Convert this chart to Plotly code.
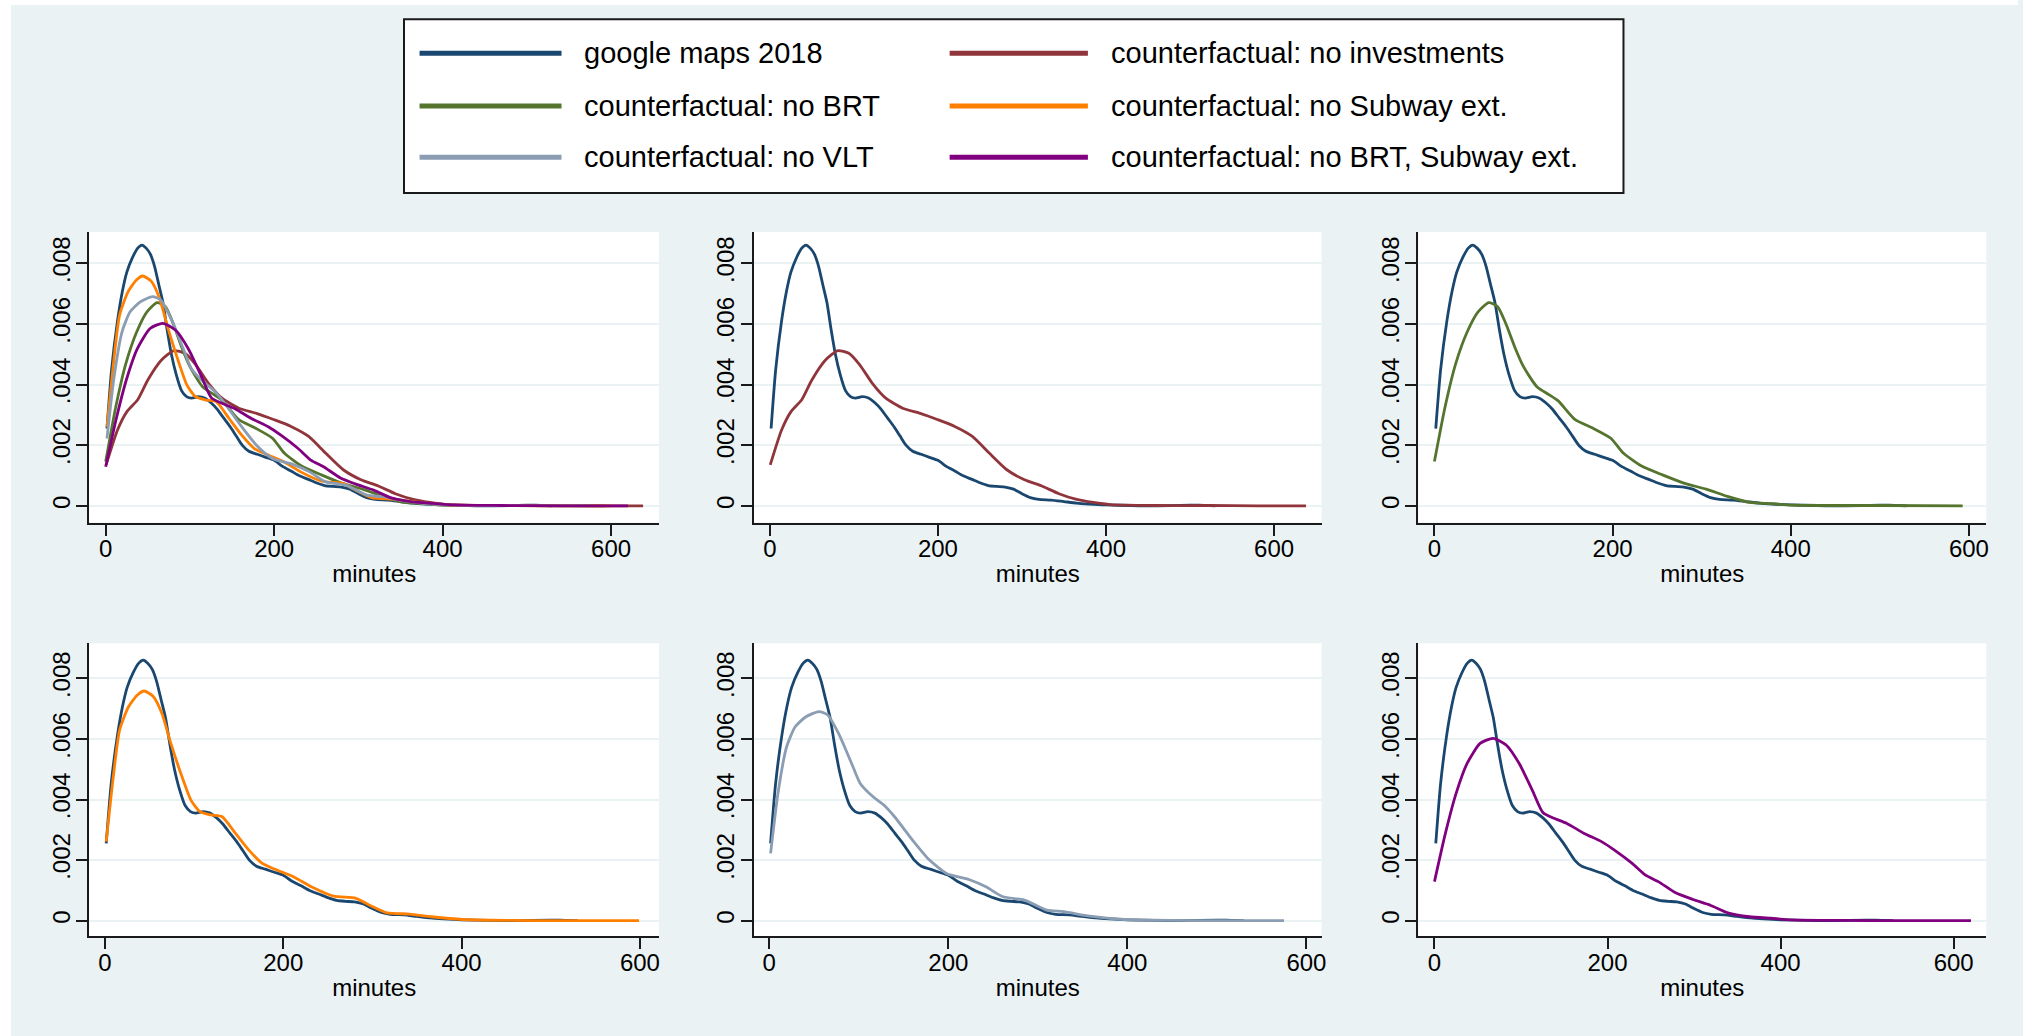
import plotly.graph_objects as go

W, H = 2023, 1036

# ---------------- data ----------------
google_x = [1.5, 7, 14, 20, 25, 32, 38, 43, 48, 53, 58, 63, 68, 73, 78, 84, 90, 96, 102, 110, 118, 125, 132,
            140, 148, 155, 162, 170, 180, 190, 200, 210, 220, 230, 240, 250, 260, 270, 280, 290, 300, 310,
            320, 335, 350, 365, 380, 400, 430, 460, 500, 510, 530]
google_y = [0.00255, 0.0045, 0.0061, 0.0071, 0.0077, 0.0082, 0.0085, 0.0086, 0.0085, 0.0083, 0.0079, 0.0073,
            0.0067, 0.0058, 0.0050, 0.0043, 0.0038, 0.0036, 0.00355, 0.0036, 0.00355, 0.0034, 0.0032,
            0.0029, 0.0026, 0.0023, 0.0020, 0.0018, 0.0017, 0.0016, 0.0015, 0.0013, 0.00115, 0.00099,
            0.00088, 0.00076, 0.00067, 0.00064, 0.00062, 0.00055, 0.0004, 0.00027, 0.00021, 0.00019,
            0.00014, 0.00009, 0.00006, 0.00003, 0.00001, 0.0, 0.00002, 0.00002, 0.0]

noinv_x = [0.5, 14, 25, 38, 50, 66, 81, 94, 107, 122, 138, 158, 179, 200, 220, 241, 261, 282, 303, 323,
           344, 364, 385, 405, 457, 520, 580, 638]
noinv_y = [0.00135, 0.0025, 0.0031, 0.0035, 0.00415, 0.0048, 0.00512, 0.00503, 0.00465, 0.00404, 0.00355,
           0.00322, 0.00305, 0.00284, 0.00262, 0.00229, 0.00174, 0.00119, 0.00086, 0.00066, 0.0004,
           0.00022, 0.00011, 0.00004, 0.00001, 0.00001, 0.0, 0.0]

nobrt_x = [0, 12, 24, 37, 49, 61, 71, 80, 90, 100, 115, 129, 139, 158, 178, 198, 212, 232, 256, 280, 305,
           329, 354, 378, 402, 450, 500, 593]
nobrt_y = [0.00146, 0.00327, 0.0047, 0.00575, 0.0064, 0.0067, 0.00657, 0.00602, 0.00525, 0.00459, 0.00393,
           0.00366, 0.00346, 0.00284, 0.00256, 0.00223, 0.00174, 0.00132, 0.00102, 0.00075, 0.00055,
           0.00031, 0.00011, 0.00007, 0.00002, 0.00001, 0.00001, 0.0]

nosub_x = [1.5, 9, 16.5, 26.5, 36.5, 44, 54, 64, 74, 86.5, 96.5, 106.5, 119, 131.5, 146.5, 161.5, 176.5,
           191.5, 211.5, 231.5, 256.5, 281.5, 296.5, 316.5, 341.5, 366.5, 401.5, 450, 520, 599]
nosub_y = [0.00261, 0.00464, 0.00629, 0.00706, 0.00745, 0.00758, 0.00741, 0.00684, 0.00585, 0.00475,
           0.00398, 0.0036, 0.00349, 0.00343, 0.00288, 0.00233, 0.00189, 0.00169, 0.00145, 0.00112,
           0.00081, 0.00074, 0.00052, 0.00026, 0.00022, 0.00013, 0.00004, 0.00001, 0.0, 0.0]

novlt_x = [1.5, 9.7, 19.4, 29, 41, 55.6, 65.3, 77.4, 92, 101.6, 116, 128, 140, 160, 179, 198, 223, 242,
           261, 285, 310, 329, 358, 397, 450, 520, 575]
novlt_y = [0.00222, 0.0042, 0.00574, 0.0064, 0.00673, 0.0069, 0.00679, 0.00618, 0.00519, 0.00453, 0.00409,
           0.00382, 0.00343, 0.00266, 0.0020, 0.00156, 0.00136, 0.00112, 0.00079, 0.00068, 0.00035,
           0.0003, 0.00015, 0.00004, 0.00001, 0.0, 0.0]

nobrtsub_x = [0, 12.6, 25, 37.7, 52.7, 67.8, 82.8, 97.9, 113, 125.5, 138, 153, 173, 193, 208, 228.5, 243.5,
              258.6, 278.7, 298.7, 318.8, 339, 364, 389, 414, 470, 540, 620]
nobrtsub_y = [0.00129, 0.00288, 0.0042, 0.00519, 0.00585, 0.00602, 0.0058, 0.00519, 0.00431, 0.00356,
              0.00338, 0.00321, 0.00288, 0.00261, 0.00233, 0.00189, 0.00151, 0.00129, 0.00092, 0.0007,
              0.00051, 0.00026, 0.00013, 0.00008, 0.00003, 0.00001, 0.0, 0.0]

series_names = ["google maps 2018", "counterfactual: no investments", "counterfactual: no BRT",
                "counterfactual: no Subway ext.", "counterfactual: no VLT",
                "counterfactual: no BRT, Subway ext."]
series_colors = ["#1a476f", "#90353b", "#55752f", "#ff7f00", "#8b9db3", "#800080"]
series_x = [google_x, noinv_x, nobrt_x, nosub_x, novlt_x, nobrtsub_x]
series_y = [google_y, noinv_y, nobrt_y, nosub_y, novlt_y, nobrtsub_y]

y_ticks = [0, 0.002, 0.004, 0.006, 0.008]
y_tick_labels = ["0", ".002", ".004", ".006", ".008"]
x_ticks = [0, 200, 400, 600]
x_tick_labels = ["0", "200", "400", "600"]

# panel contents: list of series indices
panels = [[0, 1, 2, 3, 4, 5], [0, 1], [0, 2], [0, 3], [0, 4], [0, 5]]

# ---------------- layout (pixel geometry) ----------------
col_px = [(89.5, 660.7), (755.9, 1324.9), (1421.9, 1991.2)]
row_px = [(232.0, 522.5), (643.3, 936.0)]
x_ranges = [[-19.5, 657], [-18.8, 656.6], [-18, 619.5], [-17.5, 621.5], [-17, 617], [-18.6, 637.7]]
y_ranges = [[-0.00055, 0.009032], [-0.000505, 0.009155]]

BG = "#eaf2f3"
FONT = "Liberation Sans, Arial, sans-serif"

fig = go.Figure()

for p, idxs in enumerate(panels):
    axn = "" if p == 0 else str(p + 1)
    for i in idxs:
        fig.add_trace(go.Scatter(
            x=series_x[i], y=series_y[i], mode="lines",
            line=dict(color=series_colors[i], width=2.8, shape="spline", smoothing=0.6),
            name=series_names[i], showlegend=False, hoverinfo="skip",
            xaxis="x" + axn, yaxis="y" + axn))

layout = dict(
    width=W, height=H, margin=dict(l=0, r=0, t=0, b=0),
    paper_bgcolor=BG, plot_bgcolor="white",
    font=dict(family=FONT, size=24, color="black"),
    showlegend=False,
)

for p in range(6):
    r, c = divmod(p, 3)
    axn = "" if p == 0 else str(p + 1)
    x0, x1 = col_px[c]
    ytop, ybot = row_px[r]
    layout["xaxis" + axn] = dict(
        domain=[x0 / W, x1 / W], range=x_ranges[p], anchor="y" + axn,
        tickvals=x_ticks, ticktext=x_tick_labels, ticks="outside", ticklen=11, tickwidth=2,
        tickcolor="#1a1a1a", showline=True, linecolor="#1a1a1a", linewidth=2,
        showgrid=False, zeroline=False, ticklabelstandoff=-7,
        tickfont=dict(family=FONT, size=24, color="black"),
        title=dict(text="minutes", font=dict(family=FONT, size=24, color="black"), standoff=4),
    )
    layout["yaxis" + axn] = dict(
        domain=[1 - ybot / H, 1 - ytop / H], range=y_ranges[r], anchor="x" + axn,
        tickvals=y_ticks, ticktext=y_tick_labels, ticks="outside", ticklen=11, tickwidth=2,
        tickcolor="#1a1a1a", showline=True, linecolor="#1a1a1a", linewidth=2,
        showgrid=True, gridcolor=BG, gridwidth=2, zeroline=False, tickangle=-90,
        ticklabelstandoff=-3,
        tickfont=dict(family=FONT, size=24, color="black"),
    )

fig.update_layout(**layout)

# white edges of the picture
fig.add_shape(type="rect", xref="paper", yref="paper", x0=0, x1=1, y0=1 - 5 / H, y1=1,
              fillcolor="white", line=dict(width=0), layer="above")
fig.add_shape(type="rect", xref="paper", yref="paper", x0=0, x1=11 / W, y0=0, y1=1,
              fillcolor="white", line=dict(width=0), layer="above")

# legend box (drawn by hand to reproduce Stata's 2-column legend)
fig.add_shape(type="rect", xref="paper", yref="paper",
              x0=405 / W, x1=1627.5 / W, y0=1 - 193 / H, y1=1 - 19.3 / H,
              fillcolor="white", line=dict(color="#1a1a1a", width=2), layer="above")
leg_rows = [53.3, 106, 157.3]
leg_cols = [(420.6, 562.9, 583.9), (952.0, 1090.6, 1112.2)]
leg_order = [0, 1, 2, 3, 4, 5]  # row-wise fill, 2 columns
for k, i in enumerate(leg_order):
    rr, cc = divmod(k, 2)
    lx0, lx1, tx = leg_cols[cc]
    yy = 1 - leg_rows[rr] / H
    fig.add_shape(type="line", xref="paper", yref="paper", x0=lx0 / W, x1=lx1 / W, y0=yy, y1=yy,
                  line=dict(color=series_colors[i], width=5), layer="above")
    fig.add_annotation(xref="paper", yref="paper", x=tx / W, y=yy, xanchor="left", yanchor="middle",
                       text=series_names[i], showarrow=False,
                       font=dict(family=FONT, size=29, color="black"))

fig.write_html("out.html")
